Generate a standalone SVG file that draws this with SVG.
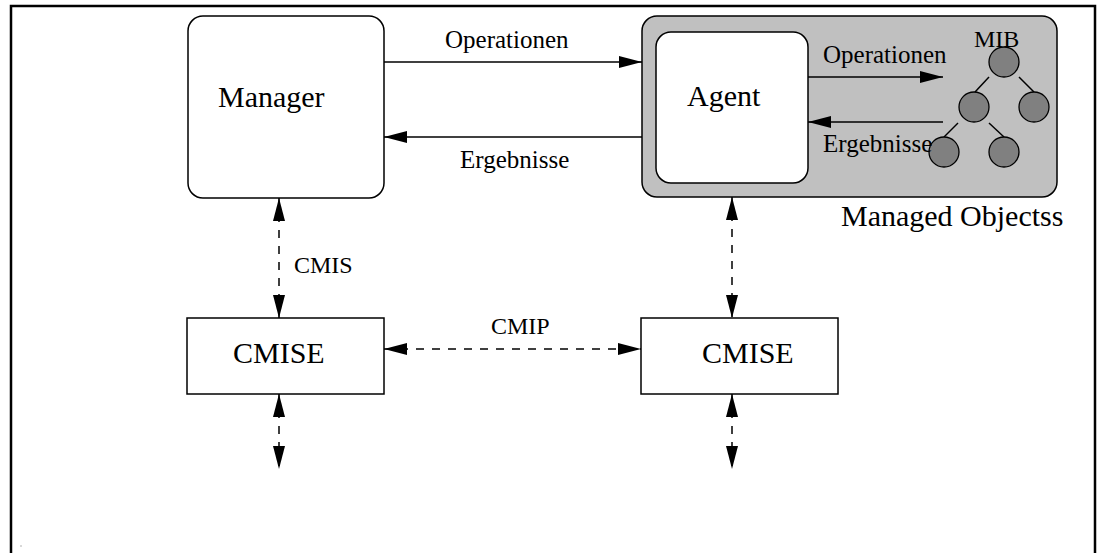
<svg xmlns="http://www.w3.org/2000/svg" width="1104" height="553" viewBox="0 0 1104 553">
<style>
.big{font-family:"Liberation Serif","Times New Roman",serif;font-size:30px;fill:#000}
.sm{font-family:"Liberation Serif","Times New Roman",serif;font-size:24px;fill:#000}
.md{font-family:"Liberation Serif","Times New Roman",serif;font-size:25px;fill:#000}
.box{fill:#fff;stroke:#000;stroke-width:1.5}
.ln{fill:none;stroke:#000;stroke-width:1.5}
.dash{fill:none;stroke:#000;stroke-width:1.5;stroke-dasharray:8 8}
.node{fill:#808080;stroke:#000;stroke-width:1.3}
</style>
<defs>
<marker id="ah" viewBox="0 0 23 12" markerWidth="23" markerHeight="12" refX="23" refY="6" orient="auto-start-reverse" markerUnits="userSpaceOnUse">
<path d="M0,0 L23,6 L0,12 Z" fill="#000" stroke="none"/>
</marker>
</defs>
<rect width="1104" height="553" fill="#fff"/>
<path d="M11,560 V6 H1095 V560" fill="none" stroke="#000" stroke-width="2.5"/>
<rect x="20.5" y="545.5" width="1" height="1" fill="#666"/>

<g id="manager">
<rect class="box" x="188" y="16" width="196" height="182" rx="15"/>
<text class="big" x="218" y="107">Manager</text>
</g>
<g id="managed-objects">
<rect x="642" y="16" width="415" height="181" rx="15" fill="#c0c0c0" stroke="#000" stroke-width="1.5"/>
<text class="big" x="841" y="226">Managed Objectss</text>
</g>
<g id="agent">
<rect class="box" x="656" y="32" width="152" height="151" rx="15"/>
<text class="big" x="687" y="106">Agent</text>
</g>
<g id="mib">
<text class="sm" x="974" y="47">MIB</text>
<line class="ln" x1="989" y1="77" x2="975" y2="92"/>
<line class="ln" x1="1019" y1="77" x2="1034" y2="92"/>
<line class="ln" x1="958" y1="123" x2="944" y2="137"/>
<line class="ln" x1="989" y1="123" x2="1004" y2="137"/>
<circle class="node" cx="1004" cy="62" r="15"/>
<circle class="node" cx="974" cy="107" r="15"/>
<circle class="node" cx="1034" cy="107" r="15"/>
<circle class="node" cx="944" cy="152" r="15"/>
<circle class="node" cx="1004" cy="152" r="15"/>
</g>
<g id="cmise-left">
<rect class="box" x="187" y="318" width="197" height="76"/>
<text class="big" x="233" y="363">CMISE</text>
</g>
<g id="cmise-right">
<rect class="box" x="641" y="318" width="197" height="76"/>
<text class="big" x="702" y="363">CMISE</text>
</g>

<g id="connectors">
<line class="ln" x1="384" y1="62" x2="642" y2="62" marker-end="url(#ah)"/>
<line class="ln" x1="642" y1="137" x2="384" y2="137" marker-end="url(#ah)"/>
<line class="ln" x1="808" y1="77" x2="943" y2="77" marker-end="url(#ah)"/>
<line class="ln" x1="943" y1="122" x2="808" y2="122" marker-end="url(#ah)"/>
<line class="dash" x1="279" y1="198" x2="279" y2="318" marker-start="url(#ah)" marker-end="url(#ah)"/>
<line class="dash" x1="732" y1="197" x2="732" y2="318" marker-start="url(#ah)" marker-end="url(#ah)"/>
<line class="dash" x1="384" y1="349" x2="641" y2="349" marker-start="url(#ah)" marker-end="url(#ah)"/>
<line class="dash" x1="279" y1="394" x2="279" y2="469" marker-start="url(#ah)" marker-end="url(#ah)"/>
<line class="dash" x1="732" y1="394" x2="732" y2="469" marker-start="url(#ah)" marker-end="url(#ah)"/>
</g>
<g id="labels">
<text class="md" x="445" y="48">Operationen</text>
<text class="md" x="460" y="168">Ergebnisse</text>
<text class="md" x="823" y="63">Operationen</text>
<text class="md" x="823" y="152">Ergebnisse</text>
<text class="sm" x="294" y="273">CMIS</text>
<text class="sm" x="491" y="334">CMIP</text>
</g>
</svg>
